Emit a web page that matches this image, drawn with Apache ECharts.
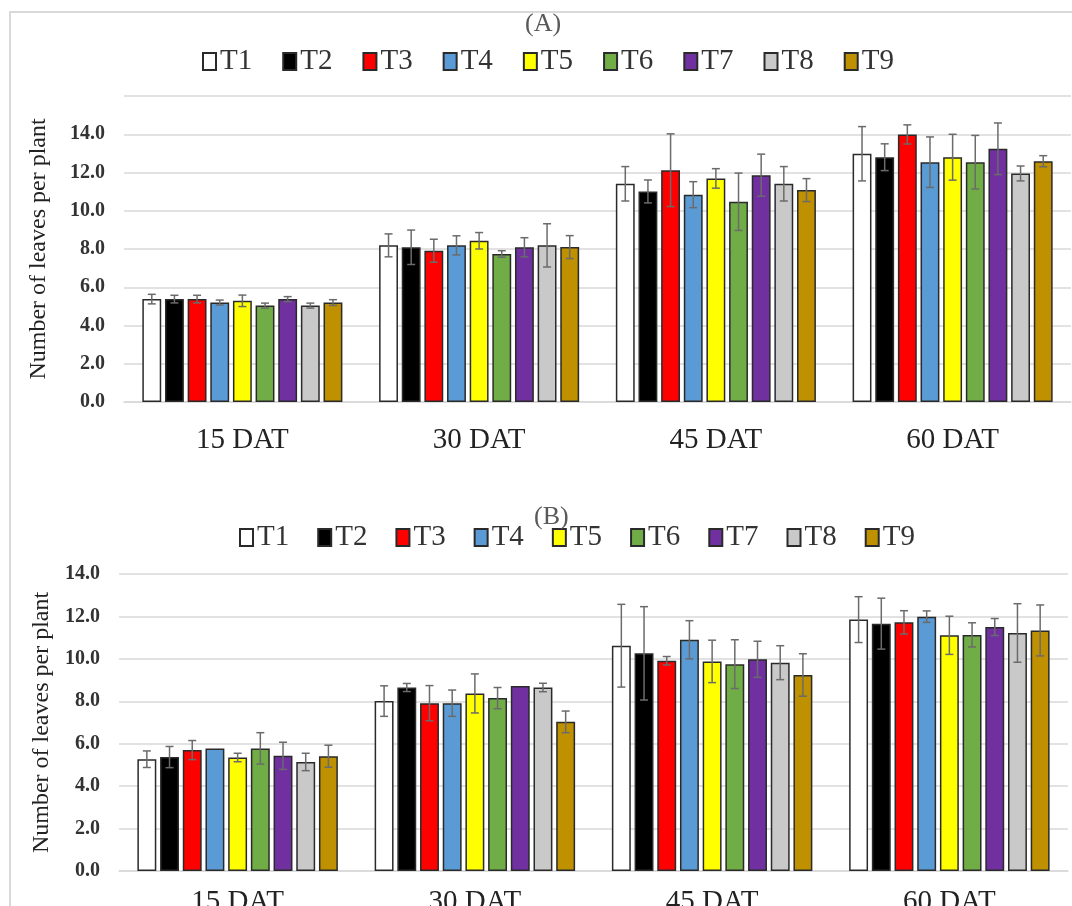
<!DOCTYPE html>
<html>
<head>
<meta charset="utf-8">
<script src="https://cdn.jsdelivr.net/npm/echarts@6/dist/echarts.min.js"></script>
<style>html,body{margin:0;padding:0;background:#fff;}#chart{width:1072px;height:906px;}</style>
</head>
<body>
<div id="chart"></div>
<script>
const categories = ['15 DAT', '30 DAT', '45 DAT', '60 DAT'];
const treatments = ['T1', 'T2', 'T3', 'T4', 'T5', 'T6', 'T7', 'T8', 'T9'];
const colors = ['#ffffff', '#000000', '#ff0000', '#5b9bd5', '#ffff00', '#70ad47', '#7030a0', '#c9c9c9', '#bf9000'];
const ticksA = [0, 2, 4, 6, 8, 10, 12, 14];
const ticksB = [0, 2, 4, 6, 8, 10, 12, 14];

// Panel A: mean number of leaves per plant (rows: T1..T9, cols: 15/30/45/60 DAT)
const meansA = [
  [5.38, 8.19, 11.41, 12.98],
  [5.38, 8.09, 11.01, 12.80],
  [5.38, 7.91, 12.12, 13.99],
  [5.20, 8.19, 10.84, 12.54],
  [5.29, 8.43, 11.69, 12.80],
  [5.04, 7.74, 10.47, 12.54],
  [5.38, 8.09, 11.86, 13.24],
  [5.04, 8.19, 11.41, 11.95],
  [5.20, 8.10, 11.08, 12.59]
];
const errA = [
  [0.25, 0.60, 0.90, 1.42],
  [0.20, 0.90, 0.60, 0.70],
  [0.20, 0.60, 1.90, 0.50],
  [0.13, 0.50, 0.68, 1.32],
  [0.30, 0.43, 0.51, 1.20],
  [0.13, 0.17, 1.50, 1.40],
  [0.13, 0.50, 1.10, 1.35],
  [0.13, 1.13, 0.90, 0.39],
  [0.15, 0.60, 0.60, 0.29]
];
// Panel B
const meansB = [
  [5.27, 8.01, 10.62, 11.85],
  [5.37, 8.65, 10.26, 11.66],
  [5.70, 7.91, 9.91, 11.72],
  [5.78, 7.91, 10.90, 11.99],
  [5.35, 8.37, 9.88, 11.11],
  [5.78, 8.15, 9.75, 11.13],
  [5.43, 8.72, 9.98, 11.50],
  [5.14, 8.65, 9.82, 11.22],
  [5.41, 7.03, 9.24, 11.34]
];
const errB = [
  [0.39, 0.72, 1.95, 1.08],
  [0.50, 0.19, 2.20, 1.20],
  [0.45, 0.83, 0.20, 0.55],
  [0.00, 0.62, 0.90, 0.27],
  [0.20, 0.92, 1.00, 0.90],
  [0.74, 0.50, 1.15, 0.57],
  [0.64, 0.00, 0.85, 0.40],
  [0.41, 0.20, 0.80, 1.38],
  [0.52, 0.51, 1.00, 1.20]
];

const SERIF = '"Liberation Serif", "Times New Roman", serif';
const CAT_GAP = 0.155, BAR_GAP = 0.2;

function errorRender(params, api) {
  const cat = api.value(0), mean = api.value(1), err = api.value(2), ti = api.value(3);
  if (!err) return null;
  const c = api.coord([cat, mean]);
  const band = api.size([1, 0])[0];
  const usable = band * (1 - CAT_GAP);
  const n = treatments.length;
  const bw = usable / (n + (n - 1) * BAR_GAP);
  const x = c[0] - usable / 2 + ti * bw * (1 + BAR_GAP) + bw / 2;
  const yt = api.coord([cat, mean + err])[1];
  const yb = api.coord([cat, mean - err])[1];
  const cap = 4;
  const st = { stroke: '#6b6b6b', lineWidth: 1.5 };
  return {
    type: 'group',
    children: [
      { type: 'line', shape: { x1: x, y1: yt, x2: x, y2: yb }, style: st },
      { type: 'line', shape: { x1: x - cap, y1: yt, x2: x + cap, y2: yt }, style: st },
      { type: 'line', shape: { x1: x - cap, y1: yb, x2: x + cap, y2: yb }, style: st }
    ]
  };
}

function buildSeries(means, errs, axisIdx) {
  const out = [];
  treatments.forEach((t, i) => {
    out.push({
      type: 'bar', name: t, xAxisIndex: axisIdx, yAxisIndex: axisIdx,
      data: means[i],
      barCategoryGap: (CAT_GAP * 100) + '%', barGap: (BAR_GAP * 100) + '%',
      itemStyle: { color: colors[i], borderColor: '#2a2a2a', borderWidth: 1.5 },
      animation: false, z: 2
    });
  });
  const ed = [];
  treatments.forEach((t, i) => {
    categories.forEach((c, j) => ed.push([j, means[i][j], errs[i][j], i]));
  });
  out.push({
    type: 'custom', name: 'err' + axisIdx, xAxisIndex: axisIdx, yAxisIndex: axisIdx,
    renderItem: errorRender, data: ed, z: 5, animation: false, silent: true
  });
  return out;
}

function yAxis(idx, max, ticks) {
  return {
    type: 'value', gridIndex: idx, min: 0, max: max, interval: 2,
    axisLine: { show: false }, axisTick: { show: false },
    splitLine: { lineStyle: { color: '#d9d9d9', width: 1.5 } },
    axisLabel: {
      margin: 19, fontFamily: SERIF, fontWeight: 'bold', fontSize: 20, color: '#333',
      formatter: v => ticks.indexOf(v) >= 0 ? v.toFixed(1) : ''
    },
    name: 'Number of leaves per plant', nameLocation: 'middle',
    nameGap: idx === 0 ? 73 : 62,
    nameTextStyle: { fontFamily: SERIF, fontSize: 24, color: '#222' }
  };
}

function xAxis(idx, margin) {
  return {
    type: 'category', gridIndex: idx, data: categories,
    axisLine: { lineStyle: { color: '#d9d9d9', width: 1.5 } },
    axisTick: { show: false },
    axisLabel: { margin: margin, fontFamily: SERIF, fontSize: 29, color: '#222' }
  };
}

const legendCommon = {
  data: treatments, icon: 'rect', itemWidth: 13, itemHeight: 17,
  textStyle: { fontFamily: SERIF, fontSize: 29, color: '#333', padding: [0, 0, 0, -1] },
  selectedMode: false
};

const chart = echarts.init(document.getElementById('chart'), null, { renderer: 'canvas' });
chart.setOption({
  backgroundColor: '#ffffff',
  animation: false,
  title: [
    { text: '(A)', left: 520, top: 6, textStyle: { fontFamily: SERIF, fontWeight: 'normal', fontSize: 26, color: '#595959' } },
    { text: '(B)', left: 529, top: 499, textStyle: { fontFamily: SERIF, fontWeight: 'normal', fontSize: 26, color: '#595959' } }
  ],
  legend: [
    Object.assign({}, legendCommon, { left: 197, top: 42, itemGap: 30 }),
    Object.assign({}, legendCommon, { left: 234, top: 518, itemGap: 28 })
  ],
  grid: [
    { left: 124, top: 96, width: 947, height: 306, outerBoundsMode: 'none', containLabel: false },
    { left: 119, top: 574, width: 949, height: 297, outerBoundsMode: 'none', containLabel: false }
  ],
  xAxis: [xAxis(0, 24), xAxis(1, 17)],
  yAxis: [yAxis(0, 16, ticksA), yAxis(1, 14, ticksB)],
  graphic: [
    { type: 'polyline', shape: { points: [[10, 906], [10, 12], [1072, 12]] }, style: { stroke: '#d9d9d9', lineWidth: 2, fill: null }, silent: true }
  ],
  series: buildSeries(meansA, errA, 0).concat(buildSeries(meansB, errB, 1))
});
</script>
</body>
</html>
